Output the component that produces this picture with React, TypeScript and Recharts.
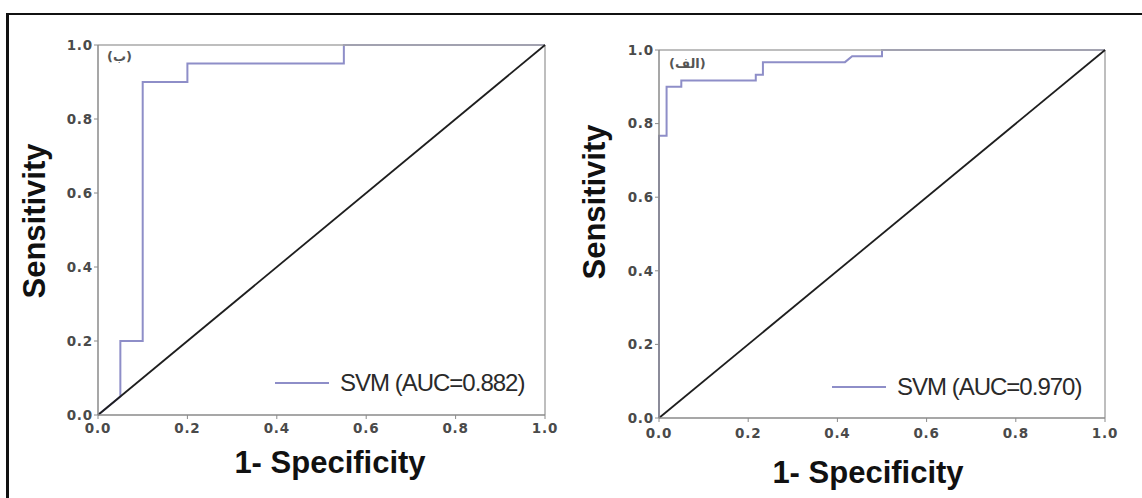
import React from 'react';
import { LineChart, Line, XAxis, YAxis, ReferenceLine } from 'recharts';

// left panel (ب)
const leftFpr = [0, 0.05, 0.05, 0.1, 0.1, 0.2, 0.2, 0.55, 0.55, 1];
const leftTpr = [0, 0.05, 0.2, 0.2, 0.9, 0.9, 0.95, 0.95, 1, 1];
const leftAuc = '0.882';

// right panel (الف)
const rightFpr = [0, 0, 0.017, 0.017, 0.05, 0.05, 0.217, 0.217, 0.233, 0.233, 0.417, 0.433, 0.5, 0.5, 1];
const rightTpr = [0, 0.767, 0.767, 0.9, 0.9, 0.917, 0.917, 0.933, 0.933, 0.967, 0.967, 0.983, 0.983, 1, 1];
const rightAuc = '0.970';

const diagonal = [0, 1];
const axisTicks = [0, 0.2, 0.4, 0.6, 0.8, 1];

const rocColor = '#8e8ec8';
const axisColor = '#8a8a8a';
const frameColor = '#a8a8a8';

const toPoints = (xs: number[], ys: number[]) => xs.map((x, i) => ({ fpr: x, tpr: ys[i] }));
const diagPoints = toPoints(diagonal, diagonal);

const tickStyle = { fontFamily: 'DejaVu Sans', fontWeight: 700, fontSize: 13.5, fill: '#4a4a4a', letterSpacing: 0.8 };

interface PanelProps {
  fpr: number[];
  tpr: number[];
  width: number;
  margin: { top: number; right: number; left: number; bottom: number };
  xTickMargin: number;
}

function RocPanel({ fpr, tpr, width, margin, xTickMargin }: PanelProps) {
  return (
    <LineChart width={width} height={498} margin={margin}>
      <XAxis
        dataKey="fpr"
        type="number"
        domain={[0, 1]}
        ticks={axisTicks}
        tickFormatter={(v: number) => v.toFixed(1)}
        height={30}
        tickSize={4}
        tickMargin={xTickMargin}
        tick={tickStyle}
        axisLine={{ stroke: axisColor, strokeWidth: 1.5 }}
        tickLine={{ stroke: axisColor }}
        allowDuplicatedCategory={false}
      />
      <YAxis
        dataKey="tpr"
        type="number"
        domain={[0, 1]}
        ticks={axisTicks}
        tickFormatter={(v: number) => v.toFixed(1)}
        width={50}
        tickSize={4}
        tickMargin={1}
        tick={tickStyle}
        axisLine={{ stroke: axisColor, strokeWidth: 1.5 }}
        tickLine={{ stroke: axisColor }}
      />
      <Line
        data={toPoints(fpr, tpr)}
        dataKey="tpr"
        type="linear"
        stroke={rocColor}
        strokeWidth={2}
        dot={false}
        activeDot={false}
        isAnimationActive={false}
      />
      <ReferenceLine y={1} stroke={frameColor} strokeWidth={1.5} />
      <ReferenceLine x={1} stroke={frameColor} strokeWidth={1.5} />
      <Line
        data={diagPoints}
        dataKey="tpr"
        type="linear"
        stroke="#1e1e1e"
        strokeWidth={1.8}
        dot={false}
        activeDot={false}
        isAnimationActive={false}
      />
    </LineChart>
  );
}

const titleStyle: React.CSSProperties = {
  position: 'absolute',
  fontFamily: 'Liberation Sans',
  fontWeight: 700,
  fontSize: 31,
  lineHeight: '31px',
  color: '#111',
  whiteSpace: 'nowrap',
};

function Legend({ left, top, auc }: { left: number; top: number; auc: string }) {
  return (
    <div style={{ position: 'absolute', left, top, display: 'flex', alignItems: 'center', whiteSpace: 'nowrap' }}>
      <div style={{ width: 54, height: 0, borderTop: `2.5px solid ${rocColor}`, marginRight: 11 }} />
      <span style={{ fontFamily: 'Liberation Sans', fontSize: 24, lineHeight: '24px', color: '#2a2a2a', letterSpacing: -1 }}>
        SVM (AUC={auc})
      </span>
    </div>
  );
}

export default function App() {
  return (
    <div style={{ position: 'absolute', left: 0, top: 0, width: 1142, height: 498, overflow: 'hidden', background: '#fff' }}>
      <div style={{ position: 'absolute', left: 6, top: 13, width: 1200, height: 600, borderTop: '2px solid #111', borderLeft: '3px solid #111' }} />

      <div style={{ position: 'absolute', left: 0, top: 0 }}>
        <RocPanel fpr={leftFpr} tpr={leftTpr} width={570} margin={{ top: 45, right: 25, left: 48, bottom: 53 }} xTickMargin={4} />
      </div>
      <div style={{ position: 'absolute', left: 570, top: 0 }}>
        <RocPanel fpr={rightFpr} tpr={rightTpr} width={572} margin={{ top: 50, right: 37, left: 39, bottom: 50 }} xTickMargin={6} />
      </div>

      <div style={{ ...titleStyle, left: 34, top: 221, transform: 'translate(-50%, -50%) rotate(-90deg)' }}>Sensitivity</div>
      <div style={{ ...titleStyle, left: 594, top: 202, transform: 'translate(-50%, -50%) rotate(-90deg)' }}>Sensitivity</div>

      <div style={{ ...titleStyle, left: 230, width: 200, top: 447, textAlign: 'center' }}>1- Specificity</div>
      <div style={{ ...titleStyle, left: 768, width: 200, top: 457, textAlign: 'center' }}>1- Specificity</div>

      <div style={{ position: 'absolute', left: 107, top: 49, fontFamily: 'DejaVu Sans', fontWeight: 700, fontSize: 13, color: '#555', direction: 'rtl' }}>(ب)</div>
      <div style={{ position: 'absolute', left: 669, top: 56, fontFamily: 'DejaVu Sans', fontWeight: 700, fontSize: 13, color: '#555', direction: 'rtl' }}>(الف)</div>

      <Legend left={275} top={371} auc={leftAuc} />
      <Legend left={832} top={375} auc={rightAuc} />
    </div>
  );
}
